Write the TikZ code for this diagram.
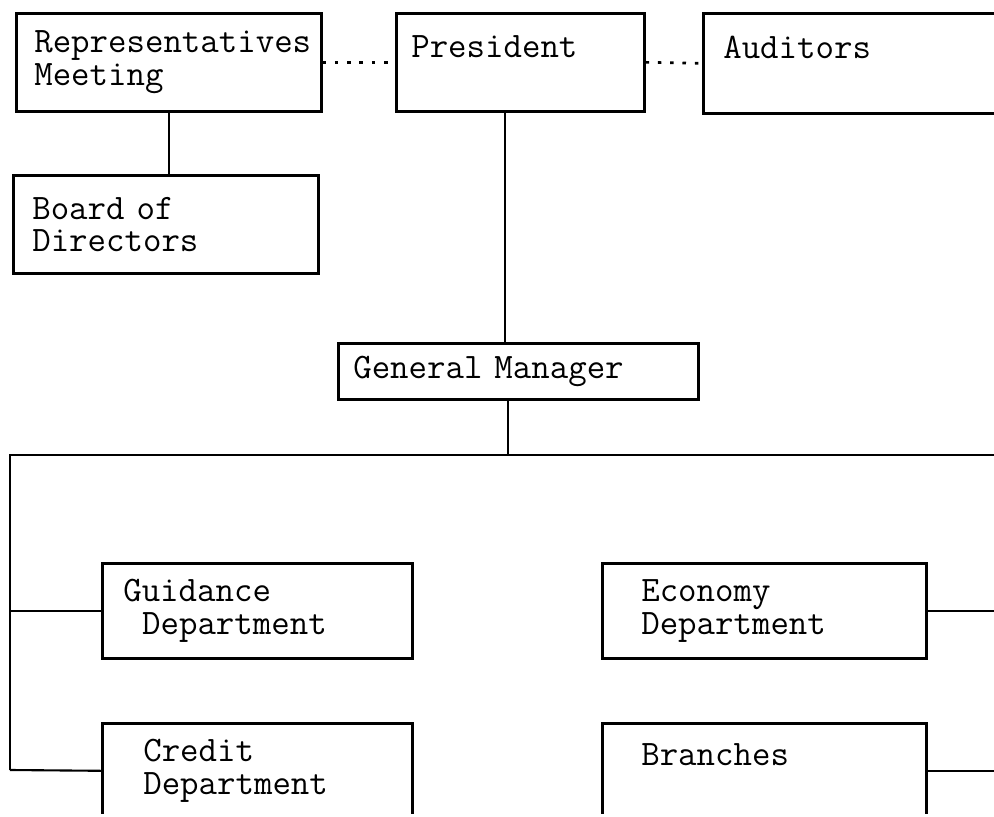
\documentclass[tikz,border=0pt]{standalone}
\usepackage{tikz}

\begin{document}
\begin{tikzpicture}[x=0.02cm, y=-0.02cm,
unit/.style={rectangle, draw=black, line width=1.5pt, anchor=north west, align=left, inner ysep=0pt, font=\ttfamily\fontsize{20.4}{18.5}\selectfont},
link/.style={line width=1.2pt},
dotlink/.style={line width=1.5pt, dash pattern=on 2pt off 5pt}
]
\useasboundingbox (0,0) rectangle (994,817);
\clip (0,0) rectangle (994,813);
% Top row of boxes
\node[unit, minimum width=6.1cm, minimum height=1.96cm, inner xsep=0.36cm, text width=5.38cm] (reps) at (15,12) {Representatives\\Meeting};
\node[unit, minimum width=4.96cm, minimum height=1.96cm, inner xsep=0.3cm, text width=4.36cm] (pres) at (395,12) {President\\\mbox{}};
\node[unit, minimum width=6.4cm, minimum height=2cm, inner xsep=0.4cm, text width=5.6cm] (aud) at (702,12) {Auditors\\\mbox{}};
\node[unit, minimum width=6.1cm, minimum height=1.96cm, inner xsep=0.38cm, text width=5.34cm] (board) at (12,174) {Board of\\Directors};
% Manager
\node[unit, minimum width=7.2cm, minimum height=1.12cm, inner xsep=0.3cm, text width=6.6cm] (gm) at (337,342) {General Manager};
% Departments
\node[unit, minimum width=6.2cm, minimum height=1.9cm, inner xsep=0.42cm, text width=5.36cm] (guid) at (101,562) {Guidance\\\hspace*{0.525em}Department};
\node[unit, minimum width=6.48cm, minimum height=1.9cm, inner xsep=0.78cm, text width=4.92cm] (econ) at (601,562) {Economy\\Department};
\node[unit, minimum width=6.2cm, minimum height=1.9cm, inner xsep=0.82cm, text width=4.56cm] (credit) at (101,722) {Credit\\Department};
\node[unit, minimum width=6.48cm, minimum height=1.9cm, inner xsep=0.78cm, text width=4.92cm] (branch) at (601,722) {Branches\\\mbox{}};
% Free ends of the bus lines
\coordinate (busL) at (10,455);
\coordinate (busR) at (994,455);
\coordinate (busB) at (10,770);
% Connectors
\draw[dotlink] (reps.east) -- (pres.west);
\draw[dotlink] (pres.east) -- (aud.west);
\draw[link] (reps.south) -- (reps.south |- board.north);
\draw[link] ([xshift=-0.3cm]pres.south) -- ([xshift=-0.3cm]pres.south |- gm.north);
\draw[link] ([xshift=-0.2cm]gm.south) -- ([xshift=-0.2cm]gm.south |- busL);
\draw[link] (busR) -- (busL) -- (busB);
\draw[link] (busL |- guid.west) -- (guid.west);
\draw[link] (busB) -- (credit.west);
\draw[link] (econ.east) -- (econ.east -| busR);
\draw[link] (branch.east) -- (branch.east -| busR);
\end{tikzpicture}
\end{document}
